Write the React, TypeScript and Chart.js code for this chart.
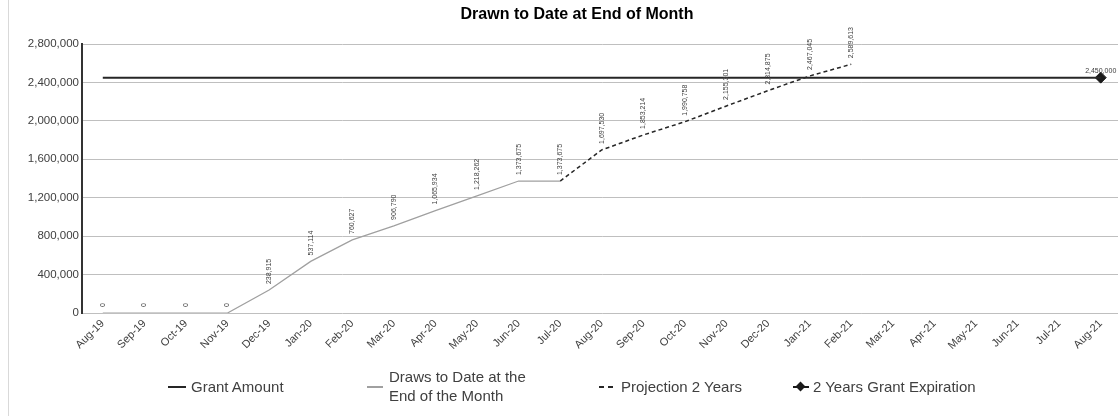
import React, { useEffect, useRef } from "react";
import { Chart, registerables } from "chart.js";

Chart.register(...registerables);

// Month-end categories
const months = [
  "Aug-19", "Sep-19", "Oct-19", "Nov-19", "Dec-19", "Jan-20", "Feb-20", "Mar-20",
  "Apr-20", "May-20", "Jun-20", "Jul-20", "Aug-20", "Sep-20", "Oct-20", "Nov-20",
  "Dec-20", "Jan-21", "Feb-21", "Mar-21", "Apr-21", "May-21", "Jun-21", "Jul-21", "Aug-21",
];

// Total grant awarded
const grantAmount = 2450000;

// Actual cumulative draws, Aug-19 .. Jul-20
const drawsToDate = [
  0, 0, 0, 0, 238915, 537114, 760627, 906790, 1065934, 1218262, 1373675, 1373675,
];

// Projected cumulative draws, Jul-20 .. Feb-21
const projectionStartIndex = 11;
const projection2Years = [
  1373675, 1697530, 1853214, 1990758, 2155301, 2314875, 2467045, 2589613,
];

// Grant expiration point (last month)
const expirationValue = 2450000;

// Value-axis ticks
const yTickValues = [0, 400000, 800000, 1200000, 1600000, 2000000, 2400000, 2800000];

const FONT = "'Liberation Sans', Arial, sans-serif";
const TEXT = "#404040";

const fmt = (v: number) => v.toLocaleString("en-US");

// Small value labels next to each point
const valueLabelPlugin = {
  id: "valueLabels",
  afterDatasetsDraw(chart: any) {
    const ctx = chart.ctx;
    chart.data.datasets.forEach((ds: any, di: number) => {
      if (!ds.valueLabels) return;
      const meta = chart.getDatasetMeta(di);
      if (meta.hidden) return;
      meta.data.forEach((pt: any, i: number) => {
        const v = ds.data[i];
        if (v === null || v === undefined) return;
        if (ds.labelFrom !== undefined && i < ds.labelFrom) return;
        ctx.save();
        ctx.fillStyle = TEXT;
        ctx.font = `7px ${FONT}`;
        if (ds.valueLabels === "vertical") {
          ctx.translate(pt.x, pt.y - 6);
          ctx.rotate(-Math.PI / 2);
          ctx.textAlign = "left";
          ctx.textBaseline = "middle";
          ctx.fillText(fmt(v), 0, 0);
        } else {
          ctx.textAlign = "center";
          ctx.textBaseline = "bottom";
          ctx.fillText(fmt(v), pt.x, pt.y - 3);
        }
        ctx.restore();
      });
    });
  },
};

function App() {
  const canvasRef = useRef<HTMLCanvasElement | null>(null);

  useEffect(() => {
    if (!canvasRef.current) return;
    const n = months.length;
    const grantData = months.map(() => grantAmount);
    const drawsData = months.map((_, i) => (i < drawsToDate.length ? drawsToDate[i] : null));
    const projData = months.map((_, i) => {
      const j = i - projectionStartIndex;
      return j >= 0 && j < projection2Years.length ? projection2Years[j] : null;
    });
    const expData = months.map((_, i) => (i === n - 1 ? expirationValue : null));

    const chart = new Chart(canvasRef.current, {
      type: "line",
      data: {
        labels: months,
        datasets: [
          {
            label: "Grant Amount",
            data: grantData,
            borderColor: "#262626",
            borderWidth: 2,
            pointRadius: 0,
          },
          {
            label: "Draws to Date at the End of the Month",
            data: drawsData,
            borderColor: "#a0a0a0",
            borderWidth: 1.25,
            pointRadius: 0,
            valueLabels: "vertical",
          } as any,
          {
            label: "Projection 2 Years",
            data: projData,
            borderColor: "#262626",
            borderWidth: 1.5,
            borderDash: [4, 3],
            pointRadius: 0,
            valueLabels: "vertical",
            labelFrom: projectionStartIndex + 1,
          } as any,
          {
            label: "2 Years Grant Expiration",
            data: expData,
            showLine: false,
            pointStyle: "rectRot",
            pointRadius: 5.5,
            backgroundColor: "#1a1a1a",
            borderColor: "#1a1a1a",
            valueLabels: "horizontal",
          } as any,
        ],
      },
      options: {
        animation: false,
        responsive: false,
        maintainAspectRatio: false,
        layout: { padding: { left: 0, right: 4, top: 44, bottom: 0 } },
        plugins: {
          legend: { display: false },
          tooltip: { enabled: false },
          title: { display: false },
        },
        scales: {
          x: {
            offset: true,
            grid: { display: false, drawTicks: false },
            border: { display: false },
            ticks: {
              color: TEXT,
              font: { family: FONT, size: 11 },
              minRotation: 45,
              maxRotation: 45,
              autoSkip: false,
              padding: 4,
            },
            afterFit: (s: any) => {
              s.height = 103;
            },
          },
          y: {
            min: 0,
            max: 2800000,
            afterBuildTicks: (s: any) => {
              s.ticks = yTickValues.map((v) => ({ value: v }));
            },
            grid: { color: "#bfbfbf", lineWidth: 1, drawTicks: false },
            border: { display: true, color: "#333333", width: 2 },
            ticks: {
              color: TEXT,
              font: { family: FONT, size: 11.5 },
              padding: 3,
              callback: (v: any) => fmt(Number(v)),
            },
            afterFit: (s: any) => {
              s.width = 74;
            },
          },
        },
      } as any,
      plugins: [valueLabelPlugin],
    });
    return () => chart.destroy();
  }, []);

  const legendText: React.CSSProperties = {
    position: "absolute",
    fontFamily: FONT,
    fontSize: 15,
    color: TEXT,
    lineHeight: "19px",
    whiteSpace: "nowrap",
  };

  return (
    <div
      style={{
        position: "absolute",
        left: 8,
        top: 0,
        width: 1110,
        height: 416,
        overflow: "hidden",
        borderLeft: "1px solid #d9d9d9",
        background: "#fff",
      }}
    >
      <canvas ref={canvasRef} width={1120} height={416} style={{ display: "block", marginLeft: -1 }} />
      {/* Title */}
      <div
        style={{
          position: "absolute",
          left: 368,
          width: 400,
          top: 4,
          textAlign: "center",
          fontFamily: FONT,
          fontWeight: "bold",
          fontSize: 16,
          lineHeight: "19px",
          color: "#000",
          whiteSpace: "nowrap",
        }}
      >
        Drawn to Date at End of Month
      </div>
      {/* Legend */}
      <div style={{ position: "absolute", left: 159, top: 386, width: 18, height: 2, background: "#262626" }} />
      <div style={{ ...legendText, left: 182, top: 377 }}>Grant Amount</div>

      <div style={{ position: "absolute", left: 358, top: 386, width: 16, height: 1.5, background: "#a0a0a0" }} />
      <div style={{ ...legendText, left: 380, top: 367 }}>
        Draws to Date at the
        <br />
        End of the Month
      </div>

      <div style={{ position: "absolute", left: 590, top: 386, width: 5, height: 1.5, background: "#262626" }} />
      <div style={{ position: "absolute", left: 599, top: 386, width: 5, height: 1.5, background: "#262626" }} />
      <div style={{ ...legendText, left: 612, top: 377 }}>Projection 2 Years</div>

      <div style={{ position: "absolute", left: 784, top: 386, width: 16, height: 1.5, background: "#1a1a1a" }} />
      <div
        style={{
          position: "absolute",
          left: 788,
          top: 383,
          width: 7,
          height: 7,
          background: "#1a1a1a",
          transform: "rotate(45deg)",
        }}
      />
      <div style={{ ...legendText, left: 804, top: 377 }}>2 Years Grant Expiration</div>
    </div>
  );
}

export default App;
